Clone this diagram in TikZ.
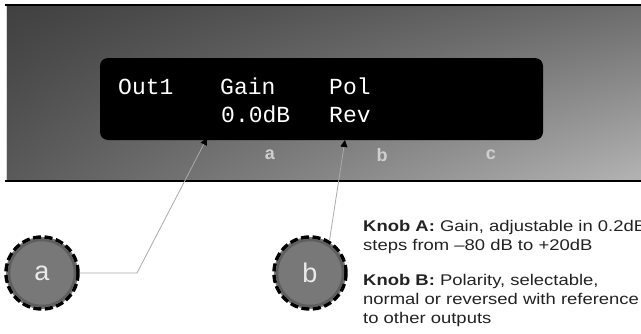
\documentclass[tikz,border=0pt]{standalone}
\usepackage{fontspec}
\setmainfont{Liberation Sans}
\newfontfamily\lcdfont{Liberation Mono}
\newfontfamily\notefont[FakeStretch=1.19]{Liberation Sans}
\usetikzlibrary{arrows.meta,shadings}
\definecolor{panelTL}{HTML}{404040}
\definecolor{panelTR}{HTML}{6C6C6C}
\definecolor{panelBL}{HTML}{5A5A5A}
\definecolor{panelBR}{HTML}{B4B4B4}
\definecolor{edgegray}{HTML}{D8D8D8}
\definecolor{keygray}{HTML}{CFCFCF}
\definecolor{knobgray}{HTML}{787878}
\definecolor{knobrim}{HTML}{5E5E5E}
\definecolor{knobtext}{HTML}{EAEAEA}
\definecolor{leadergray}{HTML}{AAAAAA}
\definecolor{notetext}{HTML}{222222}

\begin{document}
\begin{tikzpicture}[x=1pt,y=1pt,
	lcd/.style={anchor=base west,inner sep=0pt,text=white,font=\lcdfont\fontsize{23}{23}\selectfont},
	keylabel/.style={inner sep=0pt,text=keygray,font=\bfseries\fontsize{18}{18}\selectfont},
	knob/.style={circle,minimum size=72pt,inner sep=0pt,fill=knobgray,draw=black,line width=3.5pt,dash pattern=on 8pt off 3.5pt,text=knobtext,font=\fontsize{27}{27}\selectfont},
	knobring/.style={draw=knobrim,line width=2.5pt},
	leader/.style={draw=leadergray,line width=0.8pt,-{Triangle[width=7pt,length=7pt,color=black]}},
	note/.style={anchor=base west,inner sep=0pt,align=left,text=notetext,font=\notefont\fontsize{15.5}{19}\selectfont}]
	\useasboundingbox (0,0) rectangle (641,333);
	% front panel
	\shade[upper left=panelTL,upper right=panelTR,lower left=panelBL,lower right=panelBR] (7,152) rectangle (641,328);
	\draw[line width=2.5pt] (5,328)--(641,328);
	\draw[line width=2.5pt] (5,152)--(641,152);
	\draw[edgegray,line width=1.5pt] (6.5,153)--(6.5,327);
	% display
	\node (display) [fill=black,rounded corners=8pt,minimum width=443pt,minimum height=82pt,inner sep=0pt] at (321.5,234) {};
	\node[lcd] (out) at (118,239) {Out1};
	\node[lcd] (gain) at (220,239) {Gain};
	\node[lcd] (pol) at (329,239) {Pol};
	\node[lcd] (gainval) at (221,211) {0.0dB};
	\node[lcd] (polval) at (329,211) {Rev};
	\node[keylabel] (keya) at (270,178) {a};
	\node[keylabel] (keyb) at (382,178) {b};
	\node[keylabel] (keyc) at (491,178) {c};
	\coordinate (tipa) at (207,195);
	\coordinate (tipb) at (345,193);
	% knobs
	\node[knob] (knoba) at (42,60) {a};
	\node[knob] (knobb) at (310,60) {b};
	\draw[knobring] (knoba.center) circle (33);
	\draw[knobring] (knobb.center) circle (33);
	\coordinate (benda) at (137,60);
	\draw[leader] (knoba.east)--(benda)--(tipa);
	\draw[leader] (knobb.59)--(tipb);
	% notes (base = last line)
	\node[note] (notea) at (363,83) {\textbf{Knob A:} Gain, adjustable in 0.2dB\\steps from –80 dB to +20dB};
	\node[note] (noteb) at (363,10) {\textbf{Knob B:} Polarity, selectable,\\normal or reversed with reference\\to other outputs};
\end{tikzpicture}
\end{document}
